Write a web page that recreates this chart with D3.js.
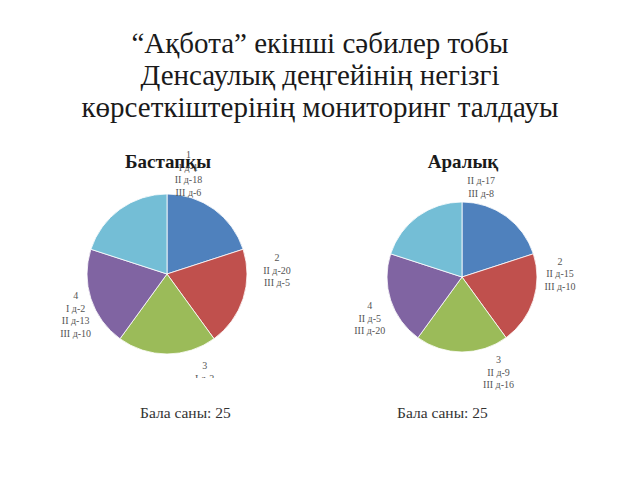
<!DOCTYPE html>
<html><head><meta charset="utf-8">
<script src="https://cdn.jsdelivr.net/npm/d3@7"></script>
<style>body{margin:0;background:#fff}svg{display:block}</style>
</head><body>
<script>
const titleLines = ["“Ақбота” екінші сәбилер тобы", "Денсаулық деңгейінің негізгі", "көрсеткіштерінің мониторинг талдауы"];
const categories = ["1", "2", "3", "4", "5"];
const valuesStart = [5, 5, 5, 5, 5];
const valuesMid = [5, 5, 5, 5, 5];
const labelsStart = [["1", "I д-1", "II д-18", "III д-6"], ["2", "II д-20", "III д-5"], ["3", "I д-2"], ["4", "I д-2", "II д-13", "III д-10"], []];
const labelsMid = [["II д-17", "III д-8"], ["2", "II д-15", "III д-10"], ["3", "II д-9", "III д-16"], ["4", "II д-5", "III д-20"], []];
const chartTitles = ["Бастапқы", "Аралық"];
const footers = ["Бала саны: 25", "Бала саны: 25"];
const colors = ["#4F81BD", "#C0504D", "#9BBB59", "#8064A2", "#74BED6"];

const W = 640, H = 480;
const svg = d3.select("body").append("svg").attr("width", W).attr("height", H);
const serif = "'Liberation Serif','Times New Roman',serif";

svg.append("g").selectAll("text").data(titleLines).join("text")
  .attr("x", 320).attr("y", (d, i) => 53 + i * 32)
  .attr("text-anchor", "middle").attr("font-family", serif)
  .attr("font-size", 29).attr("fill", "#1a1a1a").text(d => d);

const defs = svg.append("defs");
defs.append("clipPath").attr("id", "clipL").append("rect")
  .attr("x", 0).attr("y", 130).attr("width", 320).attr("height", 248);

const color = d3.scaleOrdinal().domain(categories).range(colors);
const pie = d3.pie().sort(null).value(d => d.v);
// label placement (layout only): angular shift in degrees per slice
const labelShift = [-24, -20, -21, -6, 0];

function drawPie(cfg) {
  const g = svg.append("g");
  if (cfg.clip) g.attr("clip-path", "url(#" + cfg.clip + ")");
  const data = categories.map((c, i) => ({c, v: cfg.values[i], lab: cfg.labels[i]}));
  const arcs = pie(data);
  const arc = d3.arc().innerRadius(0).outerRadius(cfg.r);
  const pg = g.append("g").attr("transform", `translate(${cfg.cx},${cfg.cy})`);
  pg.selectAll("path").data(arcs).join("path")
    .attr("d", arc).attr("fill", d => color(d.data.c))
    .attr("stroke", "#fff").attr("stroke-width", 0.8);
  g.append("text").attr("x", cfg.cx + 1).attr("y", 168)
    .attr("text-anchor", "middle").attr("font-family", serif)
    .attr("font-weight", "bold").attr("font-size", 19).attr("fill", "#1a1a1a")
    .text(cfg.title);
  const lh = 12.5;
  arcs.forEach((a, i) => {
    const lines = a.data.lab;
    if (!lines.length) return;
    const ang = (a.startAngle + a.endAngle) / 2 + labelShift[i] * Math.PI / 180;
    const rr = cfg.r + cfg.pads[i];
    const lArc = d3.arc().innerRadius(rr).outerRadius(rr);
    const c = lArc.centroid({startAngle: ang, endAngle: ang});
    const bx = cfg.cx + c[0], by = cfg.cy + c[1];
    const y0 = by - (lines.length - 1) * lh / 2;
    const t = g.append("text")
      .attr("text-anchor", "middle").attr("font-family", serif)
      .attr("font-size", 10).attr("fill", "#555");
    lines.forEach((l, k) => {
      t.append("tspan").attr("x", bx).attr("y", y0 + k * lh + 3.5).text(l);
    });
  });
  svg.append("text").attr("x", cfg.fx).attr("y", 418)
    .attr("font-family", serif).attr("font-size", 15.5).attr("fill", "#333")
    .text(cfg.footer);
}

drawPie({cx: 167, cy: 274, r: 80, pads: [23, 30, 25, 20, 0], values: valuesStart, labels: labelsStart, title: chartTitles[0], footer: footers[0], fx: 140, clip: "clipL"});
drawPie({cx: 462, cy: 277, r: 75, pads: [17, 23, 27, 26, 0], values: valuesMid, labels: labelsMid, title: chartTitles[1], footer: footers[1], fx: 397});
</script>
</body></html>
